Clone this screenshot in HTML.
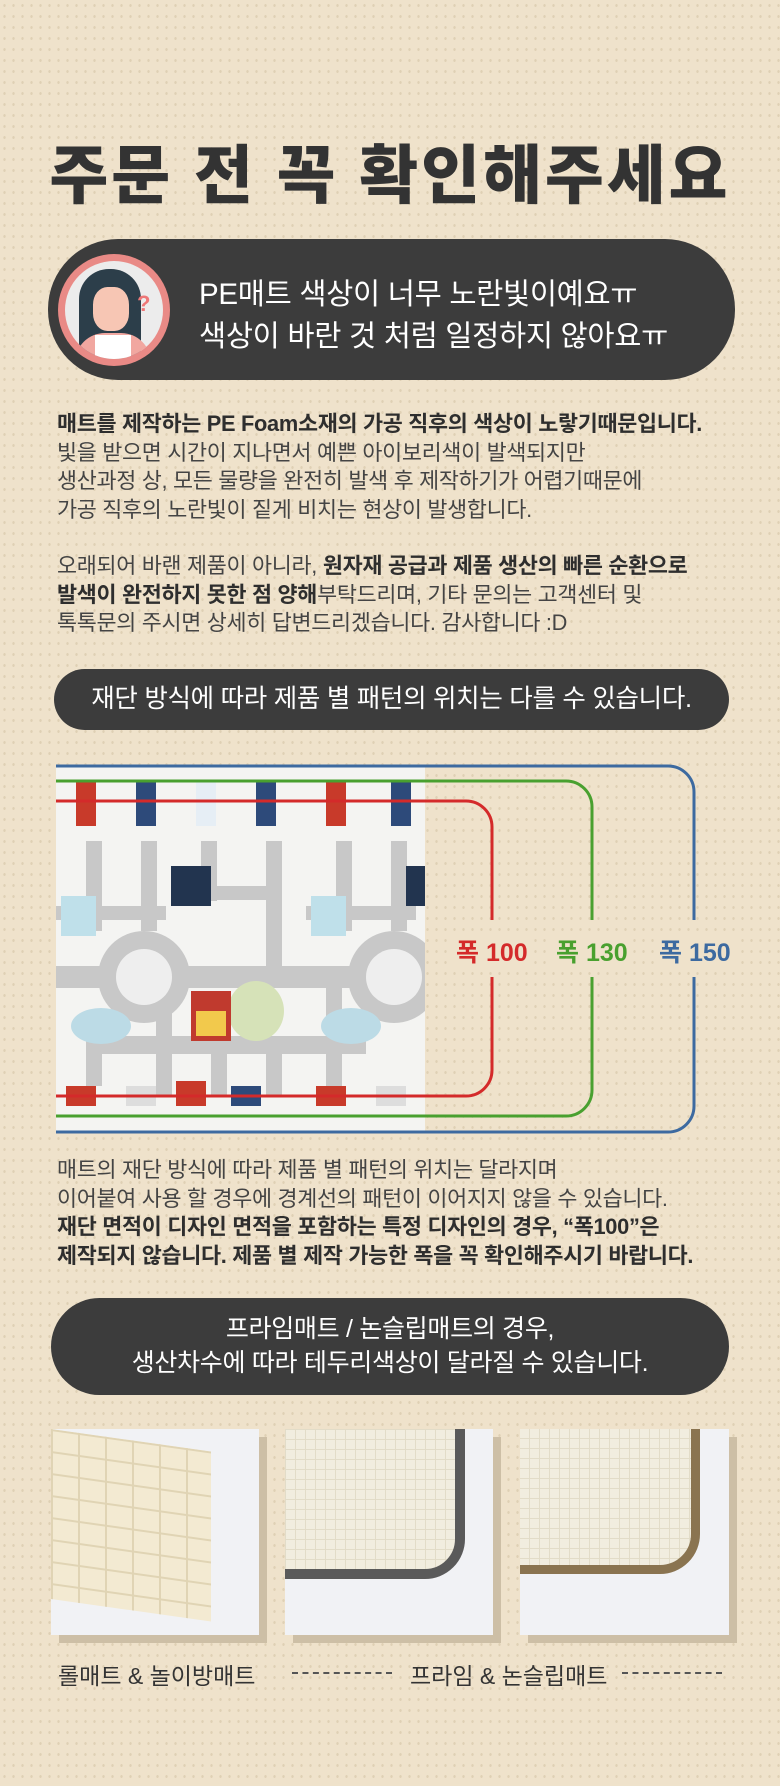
<!DOCTYPE html>
<html><head><meta charset="utf-8">
<style>
*{margin:0;padding:0;box-sizing:border-box}
body{width:780px;height:1786px;position:relative;overflow:hidden;background:#efe2cb;
background-image:radial-gradient(#dfd0b4 1px,transparent 1.4px);background-size:9px 11px;
font-family:"Liberation Sans","Noto Sans CJK KR",sans-serif;color:#3a3a3a}
.a{position:absolute}
.title{left:0;width:780px;top:136px;text-align:center;font-size:64px;font-weight:900;color:#333;letter-spacing:3px;line-height:80px}
.pill{background:#3c3c3c;color:#fff;border-radius:70px}
.p{left:57px;font-size:21.8px;line-height:28.5px;color:#444;white-space:nowrap;letter-spacing:-0.3px}
.p b{color:#2e2e2e}
.ph{background:#f1f2f5;box-shadow:8px 8px 0 #cdbfa6;overflow:hidden}
.cap{font-size:23px;color:#333;top:1657px}
.dash{position:absolute;top:1672px;height:0;border-top:2px dashed #555}
.lbl{font-size:25px;font-weight:bold;top:933px;background:#efe2cb;padding:0 4px}
</style></head><body>
<div class="a title">주문 전 꼭 확인해주세요</div>

<div class="a pill" style="left:48px;top:239px;width:687px;height:141px"></div>
<div class="a" style="left:58px;top:254px;width:112px;height:112px;border-radius:50%;background:#e98a86"></div>
<div class="a" style="left:65px;top:261px;width:98px;height:98px;border-radius:50%;background:#ececec;overflow:hidden">
 <div class="a" style="left:14px;top:8px;width:62px;height:90px;border-radius:30px 30px 10px 10px;background:#2c3e4a"></div>
 <div class="a" style="left:28px;top:26px;width:36px;height:44px;border-radius:40%;background:#f7c6b4"></div>
 <div class="a" style="left:10px;top:72px;width:76px;height:40px;border-radius:30px 30px 0 0;background:#f1a7a0"></div>
 <div class="a" style="left:30px;top:74px;width:36px;height:30px;background:#fff"></div>
 <div class="a" style="left:72px;top:30px;color:#e77;font-size:22px;font-weight:bold">?</div>
</div>
<div class="a" style="left:199px;top:274px;color:#fff;font-size:29.5px;line-height:42px;white-space:nowrap;letter-spacing:-0.3px">PE매트 색상이 너무 노란빛이예요ㅠ<br>색상이 바란 것 처럼 일정하지 않아요ㅠ</div>

<div class="a p" style="top:410px"><b>매트를 제작하는 PE Foam소재의 가공 직후의 색상이 노랗기때문입니다.</b><br>빛을 받으면 시간이 지나면서 예쁜 아이보리색이 발색되지만<br>생산과정 상, 모든 물량을 완전히 발색 후 제작하기가 어렵기때문에<br>가공 직후의 노란빛이 짙게 비치는 현상이 발생합니다.</div>
<div class="a p" style="top:552px">오래되어 바랜 제품이 아니라, <b>원자재 공급과 제품 생산의 빠른 순환으로</b><br><b>발색이 완전하지 못한 점 양해</b>부탁드리며, 기타 문의는 고객센터 및<br>톡톡문의 주시면 상세히 답변드리겠습니다. 감사합니다 :D</div>

<div class="a pill" style="left:54px;top:669px;width:675px;height:61px;font-size:25.5px;text-align:center;line-height:61px;letter-spacing:-0.3px">재단 방식에 따라 제품 별 패턴의 위치는 다를 수 있습니다.</div>

<div class="a" style="left:56px;top:766px;width:369px;height:366px;background:#f4f4f2;overflow:hidden">
<svg width="369" height="366">
 <g fill="#c8c8c8">
  <rect x="30" y="75" width="16" height="90"/><rect x="85" y="75" width="16" height="90"/><rect x="145" y="75" width="16" height="60"/><rect x="210" y="75" width="16" height="140"/>
  <rect x="280" y="75" width="16" height="90"/><rect x="335" y="75" width="16" height="90"/>
  <rect x="0" y="140" width="110" height="14"/><rect x="145" y="120" width="80" height="14"/><rect x="250" y="140" width="110" height="14"/>
  <rect x="0" y="200" width="369" height="22"/>
  <rect x="30" y="270" width="280" height="18"/><rect x="30" y="280" width="16" height="40"/><rect x="100" y="200" width="16" height="130"/><rect x="155" y="280" width="16" height="50"/><rect x="210" y="280" width="16" height="50"/><rect x="270" y="200" width="16" height="130"/>
  <circle cx="88" cy="211" r="46"/><circle cx="338" cy="211" r="46"/>
 </g>
 <circle cx="88" cy="211" r="28" fill="#eee"/><circle cx="338" cy="211" r="28" fill="#eee"/>
 <ellipse cx="200" cy="245" rx="28" ry="30" fill="#d6e2b8"/>
 <ellipse cx="45" cy="260" rx="30" ry="18" fill="#bcdbe6"/><ellipse cx="295" cy="260" rx="30" ry="18" fill="#bcdbe6"/>
 <rect x="135" y="225" width="40" height="50" fill="#c03a2e"/><rect x="140" y="245" width="30" height="25" fill="#f2c94c"/>
 <rect x="115" y="100" width="40" height="40" fill="#22344f"/><rect x="350" y="100" width="19" height="40" fill="#22344f"/>
 <rect x="5" y="130" width="35" height="40" fill="#bfe0ea"/><rect x="255" y="130" width="35" height="40" fill="#bfe0ea"/>
 <g fill="#c83a2a"><rect x="20" y="15" width="20" height="45"/><rect x="270" y="15" width="20" height="45"/><rect x="10" y="320" width="30" height="20"/><rect x="120" y="315" width="30" height="25"/><rect x="260" y="320" width="30" height="20"/></g>
 <g fill="#2d4a7a"><rect x="80" y="15" width="20" height="45"/><rect x="335" y="15" width="20" height="45"/><rect x="200" y="15" width="20" height="45"/><rect x="175" y="320" width="30" height="20"/></g>
 <rect x="140" y="15" width="20" height="45" fill="#e6eef5"/>
 <g fill="#ddd"><rect x="70" y="320" width="30" height="20"/><rect x="320" y="320" width="30" height="20"/></g>
</svg>
</div>
<svg class="a" style="left:0;top:0" width="780" height="1200">
 <g fill="none" stroke-width="3">
  <path d="M56 766 H668 a26 26 0 0 1 26 26 V920 M694 977 V1106 a26 26 0 0 1 -26 26 H56" stroke="#3d6aa0"/>
  <path d="M56 781 H566 a26 26 0 0 1 26 26 V920 M592 977 V1090 a26 26 0 0 1 -26 26 H56" stroke="#49a02f"/>
  <path d="M56 801 H466 a26 26 0 0 1 26 26 V920 M492 977 V1070 a26 26 0 0 1 -26 26 H56" stroke="#d42a2a"/>
 </g>
</svg>
<div class="a lbl" style="left:452px;color:#d42a2a">폭 100</div>
<div class="a lbl" style="left:552px;color:#49a02f">폭 130</div>
<div class="a lbl" style="left:655px;color:#3d6aa0">폭 150</div>

<div class="a p" style="top:1156px">매트의 재단 방식에 따라 제품 별 패턴의 위치는 달라지며<br>이어붙여 사용 할 경우에 경계선의 패턴이 이어지지 않을 수 있습니다.<br><b>재단 면적이 디자인 면적을 포함하는 특정 디자인의 경우, “폭100”은</b><br><b>제작되지 않습니다. 제품 별 제작 가능한 폭을 꼭 확인해주시기 바랍니다.</b></div>

<div class="a pill" style="left:51px;top:1298px;width:678px;height:97px;font-size:25px;text-align:center;line-height:34px;padding-top:14px;letter-spacing:-0.3px">프라임매트 / 논슬립매트의 경우,<br>생산차수에 따라 테두리색상이 달라질 수 있습니다.</div>

<div class="a ph" style="left:51px;top:1429px;width:208px;height:206px">
 <div class="a" style="left:0;top:0;width:160px;height:170px;background:#f3ead2;transform:skewY(8deg);transform-origin:0 0;background-image:linear-gradient(90deg,#e0d4b4 2px,transparent 2px),linear-gradient(#e0d4b4 2px,transparent 2px);background-size:27px 22px"></div>
</div>
<div class="a ph" style="left:285px;top:1429px;width:208px;height:206px">
 <div class="a" style="left:-10px;top:-10px;width:190px;height:160px;background:#f1eddf;border:10px solid #5a5a5a;border-radius:0 0 40px 0;background-image:linear-gradient(90deg,#e2dcc8 1px,transparent 1px),linear-gradient(#e2dcc8 1px,transparent 1px);background-size:10px 10px"></div>
</div>
<div class="a ph" style="left:520px;top:1429px;width:209px;height:206px">
 <div class="a" style="left:-10px;top:-10px;width:190px;height:155px;background:#f1eddf;border:9px solid #8a7450;border-radius:0 0 40px 0;background-image:linear-gradient(90deg,#e2dcc8 1px,transparent 1px),linear-gradient(#e2dcc8 1px,transparent 1px);background-size:10px 10px"></div>
</div>

<div class="a cap" style="left:58px">롤매트 &amp; 놀이방매트</div>
<div class="dash" style="left:292px;width:100px"></div>
<div class="a cap" style="left:410px">프라임 &amp; 논슬립매트</div>
<div class="dash" style="left:622px;width:100px"></div>
</body></html>
